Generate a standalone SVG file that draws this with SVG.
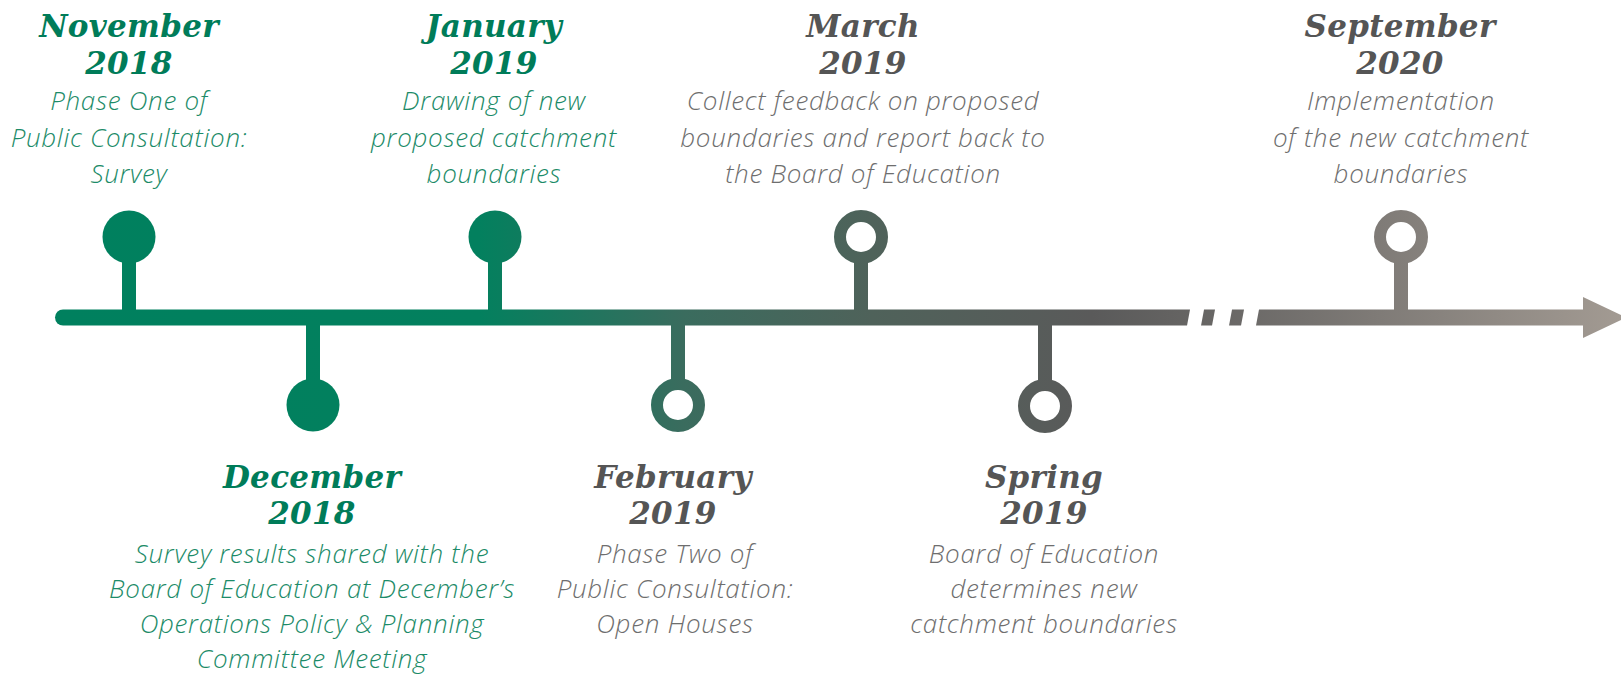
<svg xmlns="http://www.w3.org/2000/svg" width="1621" height="679" viewBox="0 0 1621 679">
<defs>
<linearGradient id="tl" gradientUnits="userSpaceOnUse" x1="55" y1="0" x2="1626" y2="0">
<stop offset="0" stop-color="#00805e"/>
<stop offset="0.27" stop-color="#03805e"/>
<stop offset="0.40" stop-color="#3a6c5e"/>
<stop offset="0.52" stop-color="#4f625a"/>
<stop offset="0.66" stop-color="#5a5a5a"/>
<stop offset="0.76" stop-color="#6c6a68"/>
<stop offset="1" stop-color="#a39b93"/>
</linearGradient>
<style>
.title{font-family:"DejaVu Serif","Liberation Serif",serif;font-style:italic;font-weight:bold;font-size:31px;letter-spacing:0.3px;text-anchor:middle}
.desc{font-family:"Open Sans","Lato","Liberation Sans",sans-serif;font-style:italic;font-weight:300;font-size:26px;letter-spacing:0.7px;text-anchor:middle}
.g{fill:#007c59}
.gd{fill:#1c8b68}
.k{fill:#555555}
.kd{fill:#6e6e6e}
.stem{fill:url(#tl)}
.dot{fill:url(#tl)}
.ring{fill:#ffffff;stroke:url(#tl);stroke-width:12}
</style>
</defs>
<rect width="1621" height="679" fill="#ffffff"/>
<g id="connectors">
<path class="stem" d="M63 309.5 L1190 309.5 L1187 325.5 L63 325.5 A8 8 0 0 1 63 309.5 Z"/>
<path class="stem" d="M1204 309.5 L1215 309.5 L1212 325.5 L1201 325.5 Z"/>
<path class="stem" d="M1232 309.5 L1244 309.5 L1241 325.5 L1229 325.5 Z"/>
<path class="stem" d="M1259 309.5 L1583 309.5 L1583 297 L1626 317.5 L1583 338 L1583 325.5 L1256 325.5 Z"/>
</g>
<g id="nov2018">
<rect class="stem" x="122" y="255" width="14" height="56"/>
<circle class="dot" cx="129" cy="237" r="26.5"/>
<text class="title g" x="129" y="37">November</text>
<text class="title g" x="129" y="74">2018</text>
<text class="desc gd" x="129" y="110">Phase One of</text>
<text class="desc gd" x="129" y="147">Public Consultation:</text>
<text class="desc gd" x="129" y="183">Survey</text>
</g>
<g id="dec2018">
<rect class="stem" x="306" y="324" width="14" height="60"/>
<circle class="dot" cx="313" cy="405" r="26.5"/>
<text class="title g" x="312" y="488">December</text>
<text class="title g" x="312" y="524">2018</text>
<text class="desc gd" x="312" y="563">Survey results shared with the</text>
<text class="desc gd" x="312" y="598">Board of Education at December’s</text>
<text class="desc gd" x="312" y="633">Operations Policy &amp; Planning</text>
<text class="desc gd" x="312" y="668">Committee Meeting</text>
</g>
<g id="jan2019">
<rect class="stem" x="488" y="255" width="14" height="56"/>
<circle class="dot" cx="495" cy="237" r="26.5"/>
<text class="title g" x="494" y="37">January</text>
<text class="title g" x="494" y="74">2019</text>
<text class="desc gd" x="494" y="110">Drawing of new</text>
<text class="desc gd" x="494" y="147">proposed catchment</text>
<text class="desc gd" x="494" y="183">boundaries</text>
</g>
<g id="feb2019">
<rect class="stem" x="671" y="324" width="14" height="62"/>
<circle class="ring" cx="678" cy="405" r="21"/>
<text class="title k" x="673" y="488">February</text>
<text class="title k" x="673" y="524">2019</text>
<text class="desc kd" x="675" y="563">Phase Two of</text>
<text class="desc kd" x="675" y="598">Public Consultation:</text>
<text class="desc kd" x="675" y="633">Open Houses</text>
</g>
<g id="mar2019">
<rect class="stem" x="854" y="256" width="14" height="55"/>
<circle class="ring" cx="861" cy="237" r="21"/>
<text class="title k" x="863" y="37">March</text>
<text class="title k" x="863" y="74">2019</text>
<text class="desc kd" x="863" y="110">Collect feedback on proposed</text>
<text class="desc kd" x="863" y="147">boundaries and report back to</text>
<text class="desc kd" x="863" y="183">the Board of Education</text>
</g>
<g id="spring2019">
<rect class="stem" x="1038" y="324" width="14" height="63"/>
<circle class="ring" cx="1045" cy="406" r="21"/>
<text class="title k" x="1044" y="488">Spring</text>
<text class="title k" x="1044" y="524">2019</text>
<text class="desc kd" x="1044" y="563">Board of Education</text>
<text class="desc kd" x="1044" y="598">determines new</text>
<text class="desc kd" x="1044" y="633">catchment boundaries</text>
</g>
<g id="sep2020">
<rect class="stem" x="1394" y="256" width="14" height="55"/>
<circle class="ring" cx="1401" cy="237" r="21"/>
<text class="title k" x="1400" y="37">September</text>
<text class="title k" x="1400" y="74">2020</text>
<text class="desc kd" x="1401" y="110">Implementation</text>
<text class="desc kd" x="1401" y="147">of the new catchment</text>
<text class="desc kd" x="1401" y="183">boundaries</text>
</g>
</svg>
